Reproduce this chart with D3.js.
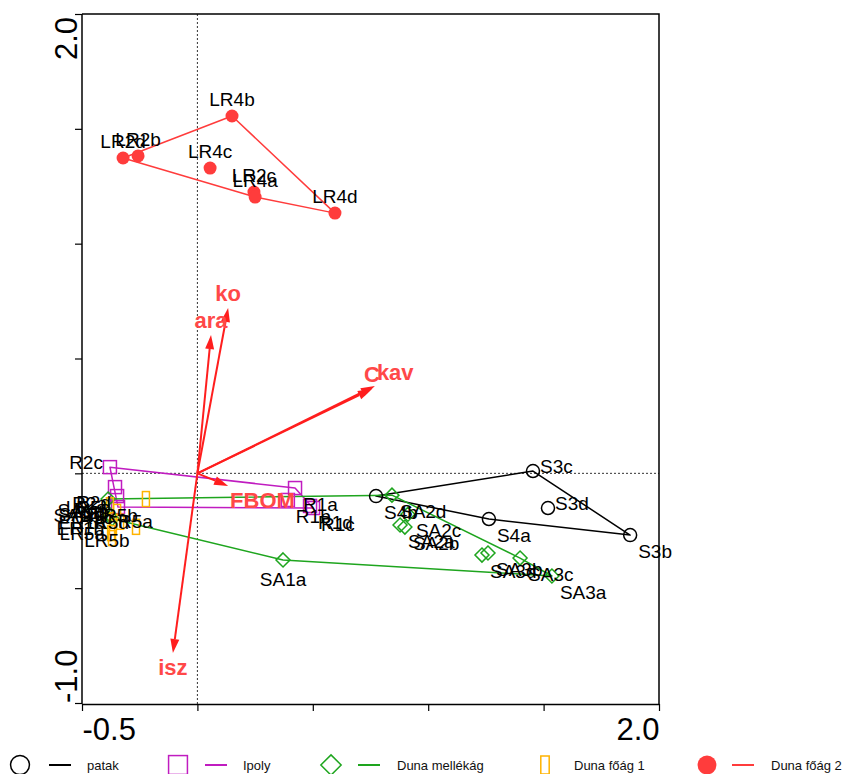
<!DOCTYPE html>
<html>
<head>
<meta charset="utf-8">
<style>
body { margin: 0; background: #fff; }
svg { display: block; font-family: Arial, "Liberation Sans", sans-serif; }
.lab { font-size: 19px; fill: #000; }
.vlab { font-size: 22px; font-weight: bold; fill: #ff4848; }
.tick text { font-size: 31px; fill: #000; }
.leg { font-size: 13px; fill: #111; }
</style>
</head>
<body>
<svg id="chart" width="858" height="774"></svg>
<script src="https://cdn.jsdelivr.net/npm/d3@7"></script>
<script>

// ---- data (ordination scores) ----
var patakNames = ["S3c", "S3d", "S3b", "S4a", "S4b"];
var patakX = [1.454, 1.519, 1.875, 1.263, 0.774];
var patakY = [0.010, -0.151, -0.269, -0.199, -0.099];
var patakLab = ["e", "e", "se", "se", "se"];

var ipolyNames = ["R2c", "R2a", "R2b", "R2d", "R1a", "R1b", "R1c", "R1d"];
var ipolyX = [-0.379, -0.357, -0.348, -0.344, 0.423, 0.392, 0.501, 0.488];
var ipolyY = [0.027, -0.060, -0.099, -0.147, -0.064, -0.116, -0.151, -0.142];
var ipolyLab = ["w", "sw", "sw", "w", "se", "se", "se", "se"];

var mellekNames = ["SA2d", "SA2c", "SA2a", "SA2b", "SA3d", "SA3b", "SA3c", "SA3a", "SA1a", "SA1b", "SA1c", "SA1d"];
var mellekX = [0.843, 0.912, 0.878, 0.899, 1.233, 1.259, 1.398, 1.536, 0.371, -0.387, -0.379, -0.370];
var mellekY = [-0.095, -0.178, -0.225, -0.234, -0.356, -0.347, -0.369, -0.447, -0.377, -0.112, -0.181, -0.198];
var mellekLab = ["se", "se", "se", "se", "se", "se", "se", "se", "s", "sw", "w", "w"];

var fo1Names = ["R5a", "R5b", "R5c", "R5d", "ER1a", "ER1b", "LR5a", "LR5b", "LR5c"];
var fo1X = [-0.379, -0.223, -0.335, -0.266, -0.366, -0.374, -0.370, -0.392, -0.348];
var fo1Y = [-0.139, -0.112, -0.211, -0.233, -0.234, -0.260, -0.282, -0.207, -0.168];
var fo1Lab = ["se", "sw", "w", "w", "w", "w", "w", "s", "w"];

var fo2Names = ["LR2d", "LR2b", "LR4b", "LR4c", "LR2c", "LR4a", "LR4d"];
var fo2X = [-0.322, -0.257, 0.150, 0.055, 0.245, 0.250, 0.596];
var fo2Y = [1.373, 1.382, 1.556, 1.329, 1.225, 1.203, 1.133];
var fo2Lab = ["n", "n", "n", "n", "n", "n", "n"];

// environmental variables
var envNames = ["ko", "ara", "C", "kav", "FBOM", "isz"];
var envX = [0.133, 0.059, 0.756, 0.769, 0.133, -0.106];
var envY = [0.720, 0.602, 0.367, 0.380, -0.055, -0.782];
var envLab = ["n", "n", "n", "ne", "se", "s"];

var xTicks = [-0.5, 0, 0.5, 1.0, 1.5, 2.0];
var yTicks = [-1.0, -0.5, 0, 0.5, 1.0, 1.5, 2.0];

var groups = [
  {name: "patak", names: patakNames, xs: patakX, ys: patakY, labs: patakLab, color: "#000", shape: "circle", hull: true},
  {name: "Ipoly", names: ipolyNames, xs: ipolyX, ys: ipolyY, labs: ipolyLab, color: "#c01cc0", shape: "square", hull: true},
  {name: "Duna mellékág", names: mellekNames, xs: mellekX, ys: mellekY, labs: mellekLab, color: "#1ea51e", shape: "diamond", hull: true},
  {name: "Duna főág 1", names: fo1Names, xs: fo1X, ys: fo1Y, labs: fo1Lab, color: "#ffb300", shape: "bar", hull: false},
  {name: "Duna főág 2", names: fo2Names, xs: fo2X, ys: fo2Y, labs: fo2Lab, color: "#ff3c3c", shape: "dot", hull: true}
];

var svg = d3.select("#chart");

var x = d3.scaleLinear().domain([-0.5, 2.0]).range([82, 659]);
var y = d3.scaleLinear().domain([-1.0, 2.0]).range([703, 14]);
var bottom = 704;

// dashed zero lines
svg.append("line")
    .attr("x1", x(0)).attr("x2", x(0)).attr("y1", y(2)).attr("y2", bottom)
    .attr("stroke", "#333").attr("stroke-dasharray", "2,2");
svg.append("line")
    .attr("x1", x(-0.5)).attr("x2", x(2)).attr("y1", y(0)).attr("y2", y(0))
    .attr("stroke", "#333").attr("stroke-dasharray", "2,2");

// frame top + right
svg.append("path")
    .attr("d", "M" + x(-0.5) + "," + y(2) + "H" + x(2) + "V" + bottom)
    .attr("fill", "none").attr("stroke", "#000").attr("stroke-width", 1.5);

// axes
var fmt = function(d) { return d.toFixed(1); };
var xAxis = svg.append("g")
    .attr("class", "tick")
    .attr("transform", "translate(0," + bottom + ")")
    .call(d3.axisBottom(x).tickValues(xTicks).tickSize(7).tickSizeOuter(0).tickPadding(7)
        .tickFormat(function(d) { return (d == -0.5 || d == 2) ? fmt(d) : ""; }));
xAxis.selectAll("text")
    .attr("text-anchor", function(d) { return d == -0.5 ? "start" : "end"; })
    .style("font-size", "31px");
xAxis.selectAll("path,line").attr("stroke", "#000").attr("stroke-width", 1.5);
xAxis.selectAll(".tick line").attr("stroke-width", 1.2);

var yAxis = svg.append("g")
    .attr("transform", "translate(" + x(-0.5) + ",0)")
    .call(d3.axisLeft(y).tickValues(yTicks).tickSize(7).tickSizeOuter(0).tickFormat(""));
yAxis.select(".domain").attr("d", "M0," + y(2) + "V" + bottom);
yAxis.selectAll("path,line").attr("stroke", "#000").attr("stroke-width", 1.5);
yAxis.selectAll(".tick line").attr("stroke-width", 1.2);

svg.selectAll(".ylab").data([-1.0, 2.0]).enter().append("text")
    .attr("class", "ylab")
    .attr("transform", function(d) { return "translate(77," + (d == 2 ? y(d) + 3 : y(d)) + ") rotate(-90)"; })
    .attr("text-anchor", function(d) { return d == 2 ? "end" : "start"; })
    .style("font-size", "31px")
    .text(function(d) { return fmt(d); });

// hulls
groups.forEach(function(g) {
  if (!g.hull) return;
  var pts = g.xs.map(function(v, i) { return [x(v), y(g.ys[i])]; });
  var hull = d3.polygonHull(pts);
  svg.append("path")
      .attr("d", "M" + hull.join("L") + "Z")
      .attr("fill", "none")
      .attr("stroke", g.color)
      .attr("stroke-width", 1.5)
      .attr("stroke-linejoin", "round");
});

function marker(sel, shape, color, s) {
  if (shape == "circle") {
    sel.append("circle").attr("r", 6.5 * s).attr("fill", "none").attr("stroke", color).attr("stroke-width", 1.5);
  } else if (shape == "dot") {
    sel.append("circle").attr("r", 6.5 * s).attr("fill", color);
  } else if (shape == "square") {
    sel.append("rect").attr("x", -6.5 * s).attr("y", -6.5 * s).attr("width", 13 * s).attr("height", 13 * s)
       .attr("fill", "none").attr("stroke", color).attr("stroke-width", 1.5);
  } else if (shape == "diamond") {
    var r = 7 * s;
    sel.append("path").attr("d", "M0," + (-r) + "L" + r + ",0L0," + r + "L" + (-r) + ",0Z")
       .attr("fill", "none").attr("stroke", color).attr("stroke-width", 1.5);
  } else if (shape == "bar") {
    sel.append("rect").attr("x", -3.5 * s).attr("y", -7.5 * s).attr("width", 7 * s).attr("height", 15 * s)
       .attr("fill", "none").attr("stroke", color).attr("stroke-width", 1.5);
  }
}

// markers
groups.forEach(function(g) {
  g.xs.forEach(function(v, i) {
    var m = svg.append("g").attr("transform", "translate(" + x(v) + "," + y(g.ys[i]) + ")");
    marker(m, g.shape, g.color, 1);
  });
});

// sample labels
var place = {
  n: [0, -10, "middle"], s: [0, 26, "middle"], e: [7, 2, "start"], w: [-7, 2, "end"],
  se: [8, 23, "start"], sw: [-8, 23, "end"], ne: [7, -8, "start"], nw: [-7, -8, "end"]
};
groups.forEach(function(g) {
  g.names.forEach(function(nm, i) {
    var p = place[g.labs[i]];
    svg.append("text")
        .attr("class", "lab")
        .attr("x", x(g.xs[i]) + p[0])
        .attr("y", y(g.ys[i]) + p[1])
        .attr("text-anchor", p[2])
        .text(nm);
  });
});

// environmental arrows
var arrowCol = "#ff1e1e";
var vplace = {n: [0, -7, "middle"], ne: [2, -6, "start"], se: [2, 22, "start"], s: [0, 22, "middle"]};
envNames.forEach(function(nm, i) {
  var x0 = x(0), y0 = y(0), x1 = x(envX[i]), y1 = y(envY[i]);
  var dx = x1 - x0, dy = y1 - y0, len = Math.sqrt(dx * dx + dy * dy);
  var ux = dx / len, uy = dy / len, hl = 14, hw = 4.5;
  var bx = x1 - ux * hl, by = y1 - uy * hl;
  svg.append("line")
      .attr("x1", x0).attr("y1", y0).attr("x2", bx).attr("y2", by)
      .attr("stroke", arrowCol).attr("stroke-width", 2);
  svg.append("path")
      .attr("d", "M" + x1 + "," + y1 + "L" + (bx - uy * hw) + "," + (by + ux * hw) +
                 "L" + (bx + uy * hw) + "," + (by - ux * hw) + "Z")
      .attr("fill", arrowCol);
  var p = vplace[envLab[i]];
  svg.append("text")
      .attr("class", "vlab")
      .attr("x", x1 + p[0])
      .attr("y", y1 + p[1])
      .attr("text-anchor", p[2])
      .text(nm);
});

// legend
var legY = 765;
var legPos = [
  {m: 20, l: 49, t: 87},
  {m: 178, l: 205, t: 243},
  {m: 331, l: 358, t: 397},
  {m: 545, l: null, t: 574},
  {m: 707, l: 732, t: 771}
];
groups.forEach(function(g, i) {
  var lp = legPos[i];
  var m = svg.append("g").attr("transform", "translate(" + lp.m + "," + legY + ")");
  marker(m, g.shape, g.color, g.shape == "bar" ? 1.2 : 1.45);
  if (g.hull) {
    svg.append("line")
        .attr("x1", lp.l).attr("x2", lp.l + 22).attr("y1", legY).attr("y2", legY)
        .attr("stroke", g.color).attr("stroke-width", 2);
  }
  svg.append("text")
      .attr("class", "leg")
      .attr("x", lp.t).attr("y", legY + 5)
      .text(g.name);
});

</script>
</body>
</html>
